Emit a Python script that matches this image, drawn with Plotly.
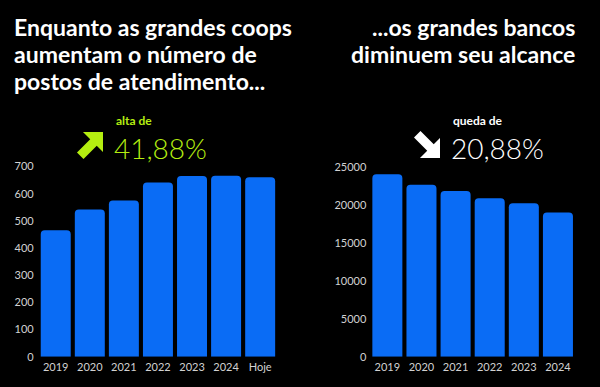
import plotly.graph_objects as go

W, H = 600, 387

# Data
coop_years = ["2019", "2020", "2021", "2022", "2023", "2024", "Hoje"]
coop_values = [465, 542, 575, 641, 665, 666, 660]
bank_years = ["2019", "2020", "2021", "2022", "2023", "2024"]
bank_values = [24000, 22630, 21800, 20840, 20180, 18990]

left_title = ["Enquanto as grandes coops", "aumentam o número de", "postos de atendimento..."]
right_title = ["...os grandes bancos", "diminuem seu alcance"]
left_label, left_pct = "alta de", "41,88%"
right_label, right_pct = "queda de", "20,88%"

BLUE = "#0a6cf5"
LIME = "#b4ee10"
TICK = "#d2d2d2"
FONT = "Lato"

def px(x):
    return x / W

def py(y):
    return 1 - y / H

fig = go.Figure()
fig.add_trace(go.Bar(x=coop_years, y=coop_values, marker=dict(color=BLUE, line=dict(width=0)),
                     xaxis="x", yaxis="y", hoverinfo="skip"))
fig.add_trace(go.Bar(x=bank_years, y=bank_values, marker=dict(color=BLUE, line=dict(width=0)),
                     xaxis="x2", yaxis="y2", hoverinfo="skip"))

axis_common = dict(showgrid=False, zeroline=False, showline=False, ticks="", automargin=False,
                   tickfont=dict(family=FONT, size=11, color=TICK))

fig.update_layout(
    width=W, height=H,
    paper_bgcolor="black", plot_bgcolor="black",
    margin=dict(l=0, r=0, t=0, b=0, pad=0),
    showlegend=False,
    bargap=0.12,
    barcornerradius=4,
    xaxis=dict(domain=[px(38.7), px(277.2)], anchor="y", ticklabelstandoff=2, **axis_common),
    yaxis=dict(domain=[py(356.7), py(166.5)], range=[0, 700], dtick=100,
               anchor="x", ticklabelstandoff=4, **axis_common),
    xaxis2=dict(domain=[px(370.3), px(575)], anchor="y2", ticklabelstandoff=2, **axis_common),
    yaxis2=dict(domain=[py(356.7), py(166.7)], range=[0, 25000], dtick=5000,
                tickformat="d", anchor="x2", ticklabelstandoff=3, **axis_common),
)

ann = []
for i, line in enumerate(left_title):
    ann.append(dict(text=line, x=px(12), y=py(27 + 27 * i), xref="paper", yref="paper",
                    xanchor="left", yanchor="middle", showarrow=False,
                    font=dict(family=FONT, size=23, color="white", weight="bold")))
for i, line in enumerate(right_title):
    ann.append(dict(text=line, x=px(577), y=py(27 + 27 * i), xref="paper", yref="paper",
                    xanchor="right", yanchor="middle", showarrow=False,
                    font=dict(family=FONT, size=23, color="white", weight="bold")))
ann.append(dict(text=left_label, x=px(114), y=py(121), xref="paper", yref="paper",
                xanchor="left", yanchor="middle", showarrow=False,
                font=dict(family=FONT, size=12, color=LIME, weight="bold")))
ann.append(dict(text=left_pct, x=px(112), y=py(148), xref="paper", yref="paper",
                xanchor="left", yanchor="middle", showarrow=False,
                font=dict(family=FONT, size=28, color=LIME, weight=300)))
ann.append(dict(text=right_label, x=px(451), y=py(121), xref="paper", yref="paper",
                xanchor="left", yanchor="middle", showarrow=False,
                font=dict(family=FONT, size=12, color="white", weight="bold")))
ann.append(dict(text=right_pct, x=px(449), y=py(148), xref="paper", yref="paper",
                xanchor="left", yanchor="middle", showarrow=False,
                font=dict(family=FONT, size=28, color="white", weight=300)))
fig.update_layout(annotations=ann)

# Arrow icons (decorative)
arrow_pts = [(6, 0), (26, 0), (26, 20), (19.75, 13.75), (6.5, 27), (0, 20.5), (13.25, 7.25)]

def arrow_path(x0, y0, flip):
    pts = []
    for ax, ay in arrow_pts:
        yy = (27 - ay) if flip else ay
        pts.append((px(x0 + ax), py(y0 + yy)))
    return "M " + " L ".join(f"{a:.5f},{b:.5f}" for a, b in pts) + " Z"

fig.add_shape(type="path", path=arrow_path(77, 132, False), xref="paper", yref="paper",
              fillcolor=LIME, line=dict(width=0))
fig.add_shape(type="path", path=arrow_path(414, 131, True), xref="paper", yref="paper",
              fillcolor="white", line=dict(width=0))

fig.write_html("out.html", config={"displayModeBar": False},
               post_script="document.body.style.margin='0';document.body.style.background='black';")
